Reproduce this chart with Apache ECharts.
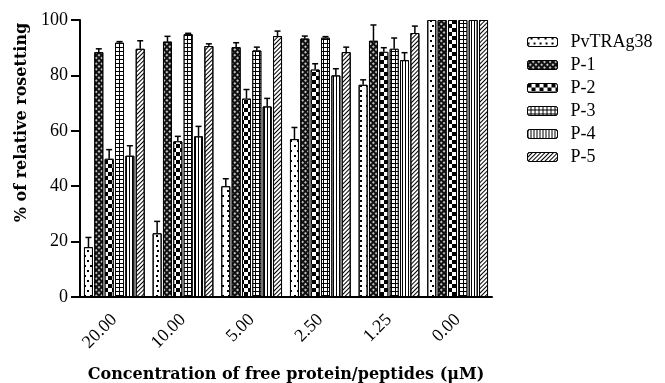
<!DOCTYPE html>
<html><head><meta charset="utf-8">
<script src="https://cdn.jsdelivr.net/npm/echarts@6/dist/echarts.min.js"></script>
<style>html,body{margin:0;padding:0;background:#fff}#c{width:665px;height:383px}</style>
</head><body><div id="c"></div>
<script>
const categories = ['20.00','10.00','5.00','2.50','1.25','0.00'];
const seriesNames = ['PvTRAg38','P-1','P-2','P-3','P-4','P-5'];
const valPvTRAg38 = [18.0, 23.0, 40.0, 57.0, 76.6, 100];
const errPvTRAg38 = [3.5, 4.3, 2.7, 4.2, 1.8, 0];
const valP1 = [88.4, 92.2, 90.2, 93.3, 92.5, 100];
const errP1 = [1.2, 1.9, 1.6, 0.9, 5.7, 0];
const valP2 = [49.9, 56.2, 71.6, 82.1, 88.5, 100];
const errP2 = [3.3, 1.8, 3.3, 2.1, 1.5, 0];
const valP3 = [91.8, 94.9, 89.0, 93.6, 89.6, 100];
const errP3 = [0.4, 0.3, 1.2, 0.4, 3.9, 0];
const valP4 = [51.0, 58.0, 68.8, 80.0, 85.5, 100];
const errP4 = [3.6, 3.6, 2.9, 2.4, 2.7, 0];
const valP5 = [89.6, 90.6, 94.2, 88.4, 95.3, 100];
const errP5 = [2.9, 0.8, 1.8, 1.8, 2.5, 0];
const yTicks = [0, 20, 40, 60, 80, 100];

const values = [valPvTRAg38, valP1, valP2, valP3, valP4, valP5];
const errors = [errPvTRAg38, errP1, errP2, errP3, errP4, errP5];

const BAR_W = 9, GAP_RATIO = 0.15;
const FONT = '"Liberation Serif", "Times New Roman", serif';
const NAME_FONT = '"DejaVu Serif", serif';

const styles = [
  {color:'#fff', decal:{symbol:'rect', color:'#000', symbolSize:1, dashArrayX:[[1.5,4],[0,2.75,1.5,1.25]], dashArrayY:[1.5,3]}},
  {color:'#111', decal:{symbol:'circle', color:'#fff', symbolSize:1, dashArrayX:[1.6,1.2], dashArrayY:[1.6,1.2], rotation:Math.PI/4}},
  {color:'#000', decal:{symbol:'rect', color:'#fff', symbolSize:1, dashArrayX:[[4,4],[0,4,4,0]], dashArrayY:[4,0]}},
  {color:'#000', decal:{symbol:'rect', color:'#fff', symbolSize:1, dashArrayX:[3,1], dashArrayY:[2.2,1]}},
  {color:'#fff', decal:{symbol:'rect', color:'#000', symbolSize:1, dashArrayX:[1,2], dashArrayY:[1,0]}},
  {color:'#fff', decal:{symbol:'rect', color:'#000', symbolSize:1, dashArrayX:[1,0], dashArrayY:[1,2], rotation:-Math.PI/4}}
];

const series = [];
seriesNames.forEach((name, i) => {
  series.push({
    name: name, type:'bar', barWidth: BAR_W, barGap: (GAP_RATIO*100)+'%',
    data: values[i],
    itemStyle: {color: styles[i].color, borderColor:'#000', borderWidth:1, decal: styles[i].decal},
    emphasis:{disabled:true}, animation:false
  });
});
seriesNames.forEach((name, i) => {
  series.push({
    type:'custom', silent:true, animation:false,
    data: values[i].map((v, k) => [k, v, errors[i][k]]),
    renderItem: function (params, api) {
      const e = api.value(2);
      if (!e) return null;
      const base = api.coord([api.value(0), api.value(1)]);
      const top = api.coord([api.value(0), api.value(1) + e]);
      const off = (i - 2.5) * (BAR_W + BAR_W * GAP_RATIO);
      const x = base[0] + off;
      return {type:'group', children:[
        {type:'line', shape:{x1:x, y1:base[1], x2:x, y2:top[1]}, style:{stroke:'#000', lineWidth:1.5}},
        {type:'line', shape:{x1:x-3, y1:top[1], x2:x+3, y2:top[1]}, style:{stroke:'#000', lineWidth:1.5}}
      ]};
    },
    z: 3
  });
});

const chart = echarts.init(document.getElementById('c'));
chart.setOption({
  animation:false,
  backgroundColor:'#fff',
  grid:{left:80, right:173, top:20, bottom:86, containLabel:false, outerBoundsMode:'none'},
  legend:{
    data: seriesNames, orient:'vertical', left:522, top:28,
    itemWidth:30, itemHeight:9, itemGap:5,
    textStyle:{fontFamily:FONT, fontSize:18, color:'#000', lineHeight:17, padding:[0,0,0,8]},
    itemStyle:{borderColor:'#000', borderWidth:1}
  },
  xAxis:{
    type:'category', data: categories,
    axisLine:{lineStyle:{color:'#000', width:2}},
    axisTick:{alignWithLabel:true, length:8, lineStyle:{color:'#000', width:2}},
    axisLabel:{rotate:45, margin:20, fontFamily:FONT, fontSize:18, color:'#000'},
    name:'Concentration of free protein/peptides (μM)', nameLocation:'middle', nameGap:70,
    nameTextStyle:{fontFamily:NAME_FONT, fontSize:16, fontWeight:'bold', color:'#000'}
  },
  yAxis:{
    type:'value', min:0, max:100, interval:20,
    splitLine:{show:false},
    axisLine:{show:true, lineStyle:{color:'#000', width:2}},
    axisTick:{show:true, length:9, lineStyle:{color:'#000', width:2}},
    axisLabel:{margin:12, fontFamily:FONT, fontSize:18, color:'#000',
      formatter: v => yTicks.indexOf(v) >= 0 ? String(v) : ''},
    name:'% of relative rosetting', nameLocation:'middle', nameGap:49, nameRotate:90,
    nameTextStyle:{fontFamily:NAME_FONT, fontSize:16, fontWeight:'bold', color:'#000', padding:[0,0,0,72]}
  },
  series: series
});
</script></body></html>
